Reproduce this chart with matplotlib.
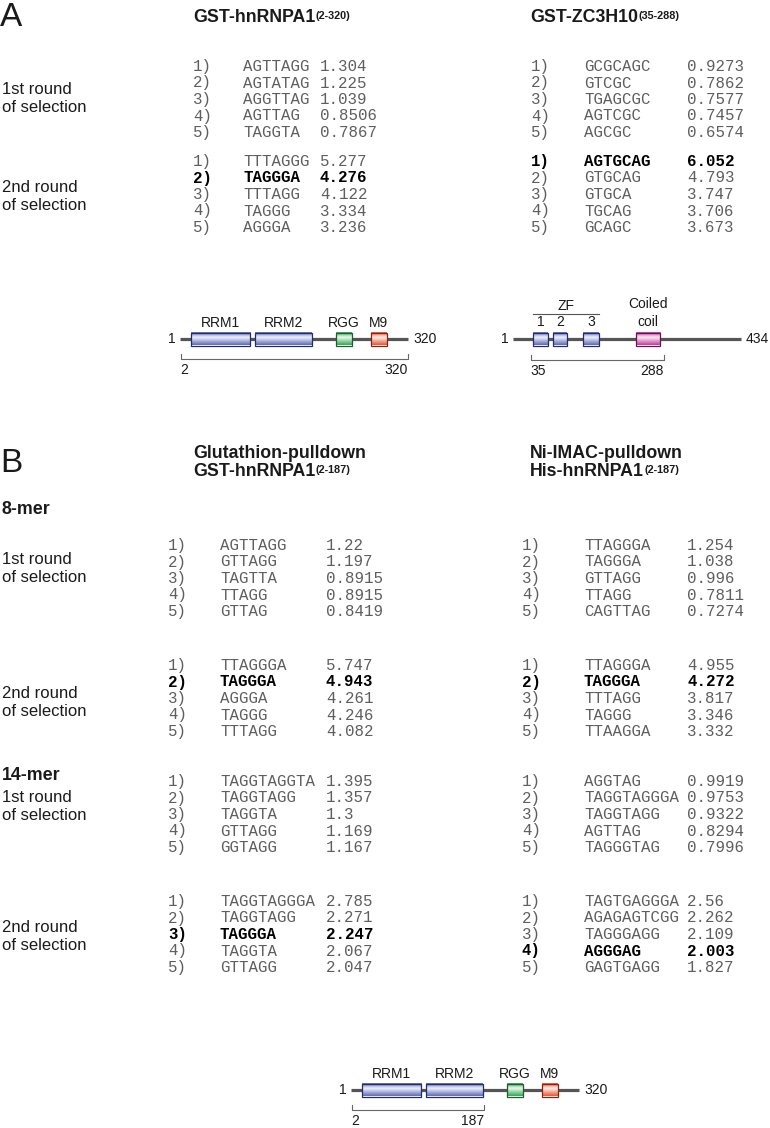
import matplotlib
matplotlib.use("Agg")
import matplotlib.pyplot as plt
import numpy as np
from matplotlib.patches import Rectangle
from matplotlib.colors import LinearSegmentedColormap

# ---------------- data ----------------
rank_labels = ["1)", "2)", "3)", "4)", "5)"]

A_hn_r1_seq = ["AGTTAGG", "AGTATAG", "AGGTTAG", "AGTTAG", "TAGGTA"]
A_hn_r1_val = [1.304, 1.225, 1.039, 0.8506, 0.7867]
A_zc_r1_seq = ["GCGCAGC", "GTCGC", "TGAGCGC", "AGTCGC", "AGCGC"]
A_zc_r1_val = [0.9273, 0.7862, 0.7577, 0.7457, 0.6574]
A_hn_r2_seq = ["TTTAGGG", "TAGGGA", "TTTAGG", "TAGGG", "AGGGA"]
A_hn_r2_val = [5.277, 4.276, 4.122, 3.334, 3.236]
A_zc_r2_seq = ["AGTGCAG", "GTGCAG", "GTGCA", "TGCAG", "GCAGC"]
A_zc_r2_val = [6.052, 4.793, 3.747, 3.706, 3.673]

B_gst8_r1_seq = ["AGTTAGG", "GTTAGG", "TAGTTA", "TTAGG", "GTTAG"]
B_gst8_r1_val = [1.22, 1.197, 0.8915, 0.8915, 0.8419]
B_his8_r1_seq = ["TTAGGGA", "TAGGGA", "GTTAGG", "TTAGG", "CAGTTAG"]
B_his8_r1_val = [1.254, 1.038, 0.996, 0.7811, 0.7274]
B_gst8_r2_seq = ["TTAGGGA", "TAGGGA", "AGGGA", "TAGGG", "TTTAGG"]
B_gst8_r2_val = [5.747, 4.943, 4.261, 4.246, 4.082]
B_his8_r2_seq = ["TTAGGGA", "TAGGGA", "TTTAGG", "TAGGG", "TTAAGGA"]
B_his8_r2_val = [4.955, 4.272, 3.817, 3.346, 3.332]
B_gst14_r1_seq = ["TAGGTAGGTA", "TAGGTAGG", "TAGGTA", "GTTAGG", "GGTAGG"]
B_gst14_r1_val = [1.395, 1.357, 1.3, 1.169, 1.167]
B_his14_r1_seq = ["AGGTAG", "TAGGTAGGGA", "TAGGTAGG", "AGTTAG", "TAGGGTAG"]
B_his14_r1_val = [0.9919, 0.9753, 0.9322, 0.8294, 0.7996]
B_gst14_r2_seq = ["TAGGTAGGGA", "TAGGTAGG", "TAGGGA", "TAGGTA", "GTTAGG"]
B_gst14_r2_val = [2.785, 2.271, 2.247, 2.067, 2.047]
B_his14_r2_seq = ["TAGTGAGGGA", "AGAGAGTCGG", "TAGGGAGG", "AGGGAG", "GAGTGAGG"]
B_his14_r2_val = [2.56, 2.262, 2.109, 2.003, 1.827]

# protein domain maps (amino-acid positions)
hn_length = 320
hn_dom_names = ["RRM1", "RRM2", "RGG", "M9"]
hn_dom_start = [16, 106, 219, 268]
hn_dom_end = [99, 185, 241, 290]
zc_length = 434
zc_dom_names = ["1", "2", "3", "Coiled\ncoil"]
zc_dom_start = [39, 77, 135, 235]
zc_dom_end = [67, 103, 164, 281]

# ---------------- styles ----------------
SANS = "Liberation Sans"
MONO = "Liberation Mono"
W, H = 770, 1128
fig = plt.figure(figsize=(W / 100, H / 100), dpi=100)
ax = fig.add_axes([0, 0, 1, 1])
ax.set_xlim(0, W)
ax.set_ylim(H, 0)
ax.axis("off")

GRAY = "#5e5e5e"
DARK = "#1a1a1a"
HFS = 12.8      # header font size
LFS = 12        # side label font size
MFS = 11.3      # monospace font size
NFS = 10        # residue number font size

def header(x, y, main, sup):
    t = ax.text(x, y, main, fontsize=HFS, fontweight="bold", family=SANS,
                va="center", ha="left", color=DARK)
    ax.annotate(sup, xy=(1, 0.93), xycoords=t, xytext=(0.3, 0),
                textcoords="offset points", fontsize=7.8, fontweight="bold",
                family=SANS, va="top", ha="left", color=DARK)

def table(xn, xs, xv, y0, seqs, vals, bold=None, dy=16.5):
    for i, (s, v) in enumerate(zip(seqs, vals)):
        y = y0 + i * dy + 5   # baseline
        b = (bold == i)
        kw = dict(fontsize=MFS, family=MONO, va="baseline", ha="left",
                  color="black" if b else GRAY,
                  fontweight="bold" if b else "normal")
        ax.text(xn, y, rank_labels[i], **kw)
        ax.text(xs, y, s, **kw)
        ax.text(xv, y, str(v), **kw)

def side_label(y, first):
    ax.text(2, y, first, fontsize=LFS, family=SANS, va="center", ha="left", color=DARK)
    ax.text(2, y + 18, "of selection", fontsize=LFS, family=SANS, va="center", ha="left", color=DARK)

# ---------------- panel A ----------------
ax.text(0, 18, "A", fontsize=24, family=SANS, va="center", ha="left", color=DARK)
header(193, 18, "GST-hnRNPA1", "(2-320)")
header(530, 18, "GST-ZC3H10", "(35-288)")

side_label(90, "1st round")
table(193, 243, 320, 66, A_hn_r1_seq, A_hn_r1_val)
table(531, 584, 687, 66, A_zc_r1_seq, A_zc_r1_val)

side_label(188, "2nd round")
table(193, 243, 320, 161, A_hn_r2_seq, A_hn_r2_val, bold=1)
table(531, 584, 687, 161, A_zc_r2_seq, A_zc_r2_val, bold=0)

# ---------------- panel B ----------------
ax.text(0, 463, "B", fontsize=24, family=SANS, va="center", ha="left", color=DARK)
ax.text(193, 453, "Glutathion-pulldown", fontsize=HFS, fontweight="bold", family=SANS,
        va="center", ha="left", color=DARK)
header(193, 472, "GST-hnRNPA1", "(2-187)")
ax.text(530, 453, "Ni-IMAC-pulldown", fontsize=HFS, fontweight="bold", family=SANS,
        va="center", ha="left", color=DARK)
header(530, 472, "His-hnRNPA1", "(2-187)")

ax.text(2, 510, "8-mer", fontsize=HFS, fontweight="bold", family=SANS, va="center", ha="left", color=DARK)
side_label(560, "1st round")
table(168, 220, 326, 545, B_gst8_r1_seq, B_gst8_r1_val)
table(522, 584, 687, 545, B_his8_r1_seq, B_his8_r1_val)

side_label(693, "2nd round")
table(168, 220, 326, 665, B_gst8_r2_seq, B_gst8_r2_val, bold=1)
table(522, 584, 687, 665, B_his8_r2_seq, B_his8_r2_val, bold=1)

ax.text(2, 776, "14-mer", fontsize=HFS, fontweight="bold", family=SANS, va="center", ha="left", color=DARK)
side_label(798, "1st round")
table(168, 220, 326, 781, B_gst14_r1_seq, B_gst14_r1_val)
table(522, 584, 687, 781, B_his14_r1_seq, B_his14_r1_val)

side_label(928, "2nd round")
table(168, 220, 326, 901, B_gst14_r2_seq, B_gst14_r2_val, bold=2)
table(522, 584, 687, 901, B_his14_r2_seq, B_his14_r2_val, bold=3)

# ---------------- domain maps ----------------
PAL = {
    "blue": ("#5d6ab8", "#eef0fa", "#232c6a"),
    "green": ("#34a853", "#eaf8ee", "#1d5e2f"),
    "orange": ("#ec5532", "#fdeee9", "#86260f"),
    "pink": ("#c23c9c", "#fbe9f5", "#6a1453"),
}

def gradient_box(dax, s, e, key, h=6.5):
    dark, light, edge = PAL[key]
    cmap = LinearSegmentedColormap.from_list("g", [dark, light, dark])
    grad = np.concatenate([np.linspace(0, 0.5, 20), np.linspace(0.5, 1, 30)])[:, None]
    dax.imshow(grad, extent=(s, e, h, -h), cmap=cmap, aspect="auto",
               interpolation="bicubic", zorder=3, vmin=0, vmax=1)
    dax.add_patch(Rectangle((s, -h), e - s, 2 * h, fill=False, ec=edge, lw=0.9, zorder=4))

def protein_axes(left_px, line_y_px, length, scale):
    width_px = (length - 1) * scale
    dax = fig.add_axes([left_px / W, 1 - (line_y_px + 45) / H, width_px / W, 90 / H])
    dax.axis("off")
    dax.plot([1, length], [0, 0], color="#555555", lw=2.3, solid_capstyle="butt",
             zorder=1, clip_on=False)
    dax.annotate("1", xy=(1, 0), xytext=(-4, 0), textcoords="offset pixels",
                 ha="right", va="center", fontsize=NFS, family=SANS, color=DARK)
    dax.annotate(str(length), xy=(length, 0), xytext=(5, 0), textcoords="offset pixels",
                 ha="left", va="center", fontsize=NFS, family=SANS, color=DARK)
    return dax

def bracket(dax, a, b, yb=20):
    dax.plot([a, a, b, b], [yb - 5, yb, yb, yb - 5], color="#666666", lw=0.8,
             clip_on=False, zorder=2)
    dax.text(a, yb + 11, str(a), ha="left", va="center", fontsize=NFS, family=SANS, color=DARK)
    dax.text(b, yb + 11, str(b), ha="right", va="center", fontsize=NFS, family=SANS, color=DARK)

def finish(dax, length):
    dax.set_xlim(1, length)
    dax.set_ylim(45, -45)

hn_keys = ["blue", "blue", "green", "orange"]

def hn_map(left_px, line_y_px, b_end):
    dax = protein_axes(left_px, line_y_px, hn_length, 0.7147)
    for n, s, e, k in zip(hn_dom_names, hn_dom_start, hn_dom_end, hn_keys):
        gradient_box(dax, s, e, k)
        dax.text((s + e) / 2, -16, n, ha="center", va="center", fontsize=10,
                 family=SANS, color=DARK)
    bracket(dax, 2, b_end)
    finish(dax, hn_length)

hn_map(180, 339, 320)
hn_map(351, 1090, 187)

# ZC3H10 (line slightly shorter so the end label fits)
zc_keys = ["blue", "blue", "blue", "pink"]
dax = protein_axes(513, 339, zc_length, 0.526)
for n, s, e, k in zip(zc_dom_names, zc_dom_start, zc_dom_end, zc_keys):
    gradient_box(dax, s, e, k)
    if "\n" in n:
        dax.text((s + e) / 2, -26, n, ha="center", va="center", fontsize=10,
                 family=SANS, color=DARK, linespacing=1.3, multialignment="center")
    else:
        dax.text((s + e) / 2, -17, n, ha="center", va="center", fontsize=10,
                 family=SANS, color=DARK)
dax.plot([zc_dom_start[0], zc_dom_end[2]], [-25, -25], color="#555555", lw=0.8, clip_on=False)
dax.text((zc_dom_start[0] + zc_dom_end[2]) / 2, -33, "ZF", ha="center", va="center",
         fontsize=10, family=SANS, color=DARK)
bracket(dax, 35, 288, yb=21)
finish(dax, zc_length)

fig.savefig("out.png", dpi=100)
